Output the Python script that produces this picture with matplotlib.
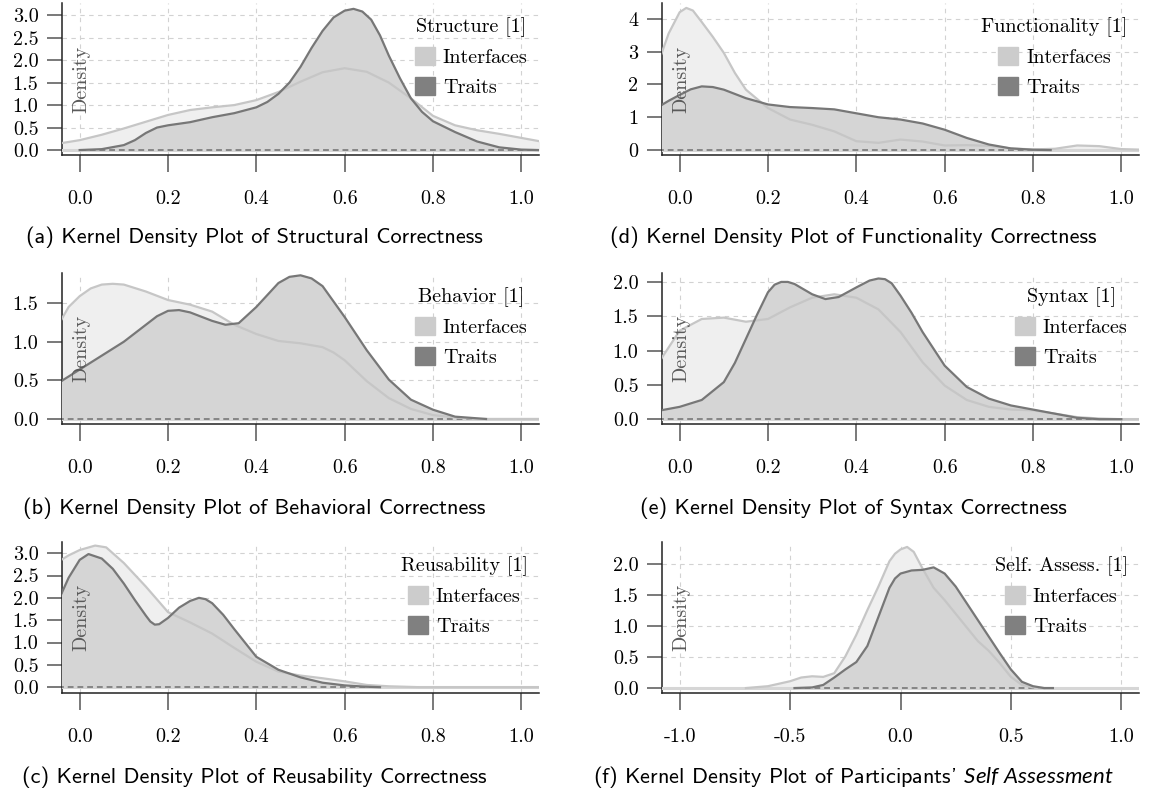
import matplotlib
matplotlib.use("Agg")
import matplotlib.pyplot as plt
from matplotlib.patches import Patch

plt.rcParams['font.family'] = ['cmr10', 'DejaVu Serif']
plt.rcParams['mathtext.fontset'] = 'custom'
plt.rcParams['mathtext.it'] = 'Lato:italic'
plt.rcParams['axes.unicode_minus'] = False

# (a) Structure
struct_if_x = [-0.05, 0.0, 0.05, 0.1, 0.15, 0.2, 0.25, 0.3, 0.35, 0.4, 0.45, 0.5, 0.55, 0.6, 0.65, 0.7, 0.75, 0.8, 0.85, 0.9, 0.95, 1.0, 1.05]
struct_if_y = [0.14, 0.22, 0.34, 0.48, 0.63, 0.78, 0.89, 0.95, 1.0, 1.11, 1.29, 1.52, 1.73, 1.82, 1.74, 1.5, 1.15, 0.76, 0.55, 0.44, 0.36, 0.27, 0.18]
struct_tr_x = [0.0, 0.05, 0.1, 0.125, 0.15, 0.175, 0.2, 0.25, 0.3, 0.35, 0.4, 0.425, 0.45, 0.475, 0.5, 0.525, 0.55, 0.575, 0.6, 0.62, 0.64, 0.66, 0.68, 0.7, 0.725, 0.75, 0.775, 0.8, 0.85, 0.9, 0.95, 1.0, 1.04]
struct_tr_y = [0.0, 0.02, 0.11, 0.22, 0.38, 0.5, 0.55, 0.62, 0.73, 0.82, 0.95, 1.07, 1.25, 1.5, 1.85, 2.27, 2.65, 2.95, 3.1, 3.14, 3.08, 2.9, 2.55, 2.1, 1.6, 1.15, 0.85, 0.64, 0.4, 0.19, 0.06, 0.01, 0.0]

# (b) Behavior
behav_if_x = [-0.05, -0.025, 0.0, 0.025, 0.05, 0.075, 0.1, 0.15, 0.2, 0.25, 0.3, 0.35, 0.4, 0.45, 0.5, 0.55, 0.575, 0.6, 0.65, 0.7, 0.75, 0.8, 0.85, 0.9, 0.95, 1.0, 1.05]
behav_if_y = [1.2, 1.45, 1.59, 1.69, 1.74, 1.75, 1.74, 1.65, 1.54, 1.48, 1.39, 1.22, 1.1, 1.01, 0.98, 0.93, 0.86, 0.76, 0.49, 0.27, 0.13, 0.05, 0.02, 0.0, 0.0, 0.0, 0.0]
behav_tr_x = [-0.05, 0.0, 0.05, 0.1, 0.15, 0.175, 0.2, 0.225, 0.25, 0.3, 0.33, 0.36, 0.4, 0.45, 0.475, 0.5, 0.525, 0.55, 0.6, 0.65, 0.7, 0.75, 0.8, 0.85, 0.92]
behav_tr_y = [0.46, 0.64, 0.82, 1.0, 1.22, 1.33, 1.4, 1.41, 1.38, 1.27, 1.22, 1.24, 1.45, 1.76, 1.84, 1.86, 1.82, 1.72, 1.32, 0.89, 0.51, 0.25, 0.12, 0.03, 0.0]

# (c) Reusability
reuse_if_x = [-0.05, -0.025, 0.0, 0.035, 0.06, 0.1, 0.15, 0.2, 0.25, 0.3, 0.35, 0.4, 0.45, 0.5, 0.55, 0.6, 0.65, 0.7, 0.77, 0.8, 1.05]
reuse_if_y = [2.8, 2.95, 3.07, 3.17, 3.13, 2.78, 2.25, 1.68, 1.45, 1.2, 0.88, 0.57, 0.35, 0.26, 0.2, 0.13, 0.05, 0.02, 0.0, 0.0, 0.0]
reuse_tr_x = [-0.05, -0.025, 0.0, 0.02, 0.05, 0.075, 0.1, 0.125, 0.15, 0.16, 0.17, 0.18, 0.2, 0.225, 0.25, 0.27, 0.285, 0.3, 0.325, 0.35, 0.4, 0.45, 0.5, 0.55, 0.6, 0.65, 0.68]
reuse_tr_y = [1.9, 2.45, 2.85, 2.98, 2.88, 2.65, 2.32, 1.95, 1.6, 1.47, 1.4, 1.41, 1.55, 1.78, 1.93, 2.0, 1.97, 1.88, 1.62, 1.3, 0.68, 0.39, 0.22, 0.1, 0.04, 0.01, 0.0]

# (d) Functionality
func_if_x = [-0.05, -0.025, 0.0, 0.015, 0.03, 0.05, 0.075, 0.1, 0.125, 0.15, 0.2, 0.25, 0.3, 0.35, 0.4, 0.45, 0.5, 0.55, 0.6, 0.65, 0.7, 0.75, 0.8, 0.85, 0.9, 0.95, 1.0, 1.05]
func_if_y = [2.6, 3.55, 4.2, 4.33, 4.25, 3.9, 3.45, 2.96, 2.35, 1.84, 1.28, 0.93, 0.77, 0.57, 0.27, 0.22, 0.32, 0.26, 0.14, 0.15, 0.13, 0.05, 0.02, 0.04, 0.14, 0.12, 0.03, 0.01]
func_tr_x = [-0.05, -0.025, 0.0, 0.025, 0.05, 0.075, 0.1, 0.15, 0.2, 0.25, 0.3, 0.35, 0.4, 0.45, 0.5, 0.55, 0.6, 0.65, 0.7, 0.75, 0.8, 0.84]
func_tr_y = [1.3, 1.5, 1.68, 1.85, 1.94, 1.92, 1.84, 1.58, 1.39, 1.31, 1.28, 1.24, 1.12, 1.0, 0.93, 0.81, 0.62, 0.37, 0.17, 0.05, 0.01, 0.0]

# (e) Syntax
syn_if_x = [-0.05, 0.0, 0.05, 0.1, 0.15, 0.2, 0.25, 0.3, 0.35, 0.4, 0.45, 0.5, 0.55, 0.6, 0.65, 0.7, 0.75, 0.8, 0.85, 0.9, 0.95, 1.0, 1.05]
syn_if_y = [0.8, 1.29, 1.46, 1.48, 1.42, 1.46, 1.63, 1.77, 1.82, 1.77, 1.6, 1.27, 0.83, 0.49, 0.28, 0.18, 0.14, 0.13, 0.08, 0.03, 0.01, 0.0, 0.0]
syn_tr_x = [-0.05, 0.0, 0.05, 0.1, 0.125, 0.15, 0.175, 0.2, 0.215, 0.23, 0.245, 0.26, 0.3, 0.33, 0.36, 0.4, 0.43, 0.45, 0.465, 0.48, 0.5, 0.525, 0.55, 0.6, 0.65, 0.7, 0.75, 0.8, 0.85, 0.9, 0.95, 1.0]
syn_tr_y = [0.12, 0.18, 0.28, 0.54, 0.82, 1.17, 1.52, 1.85, 1.96, 2.0, 2.0, 1.97, 1.82, 1.75, 1.78, 1.92, 2.02, 2.05, 2.04, 1.98, 1.8, 1.55, 1.27, 0.78, 0.47, 0.3, 0.2, 0.14, 0.08, 0.02, 0.0, 0.0]

# (f) Self assessment
self_if_x = [-0.7, -0.6, -0.5, -0.45, -0.4, -0.35, -0.3, -0.25, -0.2, -0.15, -0.1, -0.05, -0.025, 0.0, 0.03, 0.06, 0.1, 0.15, 0.2, 0.25, 0.3, 0.35, 0.4, 0.45, 0.5, 0.55, 0.6, 0.65]
self_if_y = [0.0, 0.03, 0.11, 0.17, 0.19, 0.18, 0.24, 0.51, 0.86, 1.26, 1.64, 2.05, 2.17, 2.24, 2.28, 2.2, 1.93, 1.62, 1.42, 1.2, 0.98, 0.76, 0.6, 0.4, 0.18, 0.05, 0.01, 0.0]
self_tr_x = [-0.48, -0.4, -0.35, -0.3, -0.25, -0.2, -0.15, -0.1, -0.05, -0.025, 0.0, 0.05, 0.1, 0.15, 0.2, 0.25, 0.3, 0.35, 0.4, 0.45, 0.5, 0.55, 0.6, 0.65, 0.69]
self_tr_y = [0.0, 0.01, 0.05, 0.17, 0.3, 0.42, 0.68, 1.15, 1.62, 1.77, 1.85, 1.9, 1.91, 1.95, 1.85, 1.64, 1.37, 1.1, 0.83, 0.56, 0.3, 0.1, 0.03, 0.0, 0.0]

x_ticks01 = [0.0, 0.2, 0.4, 0.6, 0.8, 1.0]
x_labels01 = ["0.0", "0.2", "0.4", "0.6", "0.8", "1.0"]
x_ticks_self = [-1.0, -0.5, 0.0, 0.5, 1.0]
x_labels_self = ["-1.0", "-0.5", "0.0", "0.5", "1.0"]

y_ticks3 = [0.0, 0.5, 1.0, 1.5, 2.0, 2.5, 3.0]
y_labels3 = ["0.0", "0.5", "1.0", "1.5", "2.0", "2.5", "3.0"]
y_ticks4 = [0, 1, 2, 3, 4]
y_labels4 = ["0", "1", "2", "3", "4"]
y_ticks15 = [0.0, 0.5, 1.0, 1.5]
y_labels15 = ["0.0", "0.5", "1.0", "1.5"]
y_ticks2 = [0.0, 0.5, 1.0, 1.5, 2.0]
y_labels2 = ["0.0", "0.5", "1.0", "1.5", "2.0"]

IF_FILL, IF_LINE, IF_PATCH = '#efefef', '#c6c6c6', '#cccccc'
TR_FILL, TR_LINE, TR_PATCH = '#d5d5d5', '#777777', '#808080'
FS = 14.5


def draw_panel(ax, xi, yi, xt, yt, title, xt_pos, xt_lab, xlim, yt_pos, yt_lab, ylim):
    ax.fill_between(xi, yi, 0, color=IF_FILL, lw=0, zorder=2)
    ax.fill_between(xt, yt, 0, color=TR_FILL, lw=0, zorder=3)
    ax.axhline(0, color='#d6d6d6', lw=2.2, zorder=4)
    # dashed baseline under the traits curve
    ax.plot([xt[0], xt[-1]], [0, 0], color='#858585', lw=1.4, ls=(0, (3, 2)), zorder=5)
    ax.plot(xi, yi, color=IF_LINE, lw=1.6, zorder=6)
    ax.plot(xt, yt, color=TR_LINE, lw=1.6, zorder=7)

    ax.set_xlim(*xlim)
    ax.set_ylim(*ylim)
    ax.set_xticks(xt_pos)
    ax.set_xticklabels(xt_lab)
    ax.set_yticks(yt_pos)
    ax.set_yticklabels(yt_lab)
    ax.grid(True, color='#d2d2d2', lw=0.8, ls=(0, (4, 4)))
    ax.set_axisbelow(True)
    for s in ['top', 'right']:
        ax.spines[s].set_visible(False)
    for s in ['left', 'bottom']:
        ax.spines[s].set_color('#222222')
        ax.spines[s].set_linewidth(1.1)
    ax.tick_params(axis='x', length=12, width=1.1, color='#555555', pad=13, labelsize=FS)
    ax.tick_params(axis='y', length=11, width=1.1, color='#555555', pad=6, labelsize=FS)

    ax.text(0.04, 0.5, "Density", transform=ax.transAxes, rotation=90,
            ha='center', va='center', fontsize=FS, color='#5a5a5a', zorder=8)

    handles = [Patch(color=IF_PATCH, label="Interfaces"), Patch(color=TR_PATCH, label="Traits")]
    ax.legend(handles=handles, title=title, loc='upper right', bbox_to_anchor=(1.01, 1.01),
              frameon=False, fontsize=FS, title_fontsize=FS, handlelength=1.0,
              handleheight=1.0, handletextpad=0.4, labelspacing=0.5, borderpad=0.3)


fig = plt.figure(figsize=(11.68, 7.93), dpi=100)

left_x, right_x, w = 62 / 1168, 662 / 1168, 477 / 1168
rows = [(3, 155), (273, 424), (542, 693)]


def make_ax(col_x, row):
    top, bot = rows[row]
    return fig.add_axes([col_x, 1 - bot / 793, w, (bot - top) / 793])


ax_a = make_ax(left_x, 0)
draw_panel(ax_a, struct_if_x, struct_if_y, struct_tr_x, struct_tr_y, "Structure [1]",
           x_ticks01, x_labels01, (-0.04, 1.04), y_ticks3, y_labels3, (-0.11, 3.27))
ax_b = make_ax(left_x, 1)
draw_panel(ax_b, behav_if_x, behav_if_y, behav_tr_x, behav_tr_y, "Behavior [1]",
           x_ticks01, x_labels01, (-0.04, 1.04), y_ticks15, y_labels15, (-0.065, 1.89))
ax_c = make_ax(left_x, 2)
draw_panel(ax_c, reuse_if_x, reuse_if_y, reuse_tr_x, reuse_tr_y, "Reusability [1]",
           x_ticks01, x_labels01, (-0.04, 1.04), y_ticks3, y_labels3, (-0.13, 3.25))
ax_d = make_ax(right_x, 0)
draw_panel(ax_d, func_if_x, func_if_y, func_tr_x, func_tr_y, "Functionality [1]",
           x_ticks01, x_labels01, (-0.04, 1.04), y_ticks4, y_labels4, (-0.15, 4.48))
ax_e = make_ax(right_x, 1)
draw_panel(ax_e, syn_if_x, syn_if_y, syn_tr_x, syn_tr_y, "Syntax [1]",
           x_ticks01, x_labels01, (-0.04, 1.04), y_ticks2, y_labels2, (-0.07, 2.13))
ax_f = make_ax(right_x, 2)
draw_panel(ax_f, self_if_x, self_if_y, self_tr_x, self_tr_y, "Self. Assess. [1]",
           x_ticks_self, x_labels_self, (-1.08, 1.08), y_ticks2, y_labels2, (-0.08, 2.36))

cap_font = ['cmss10', 'DejaVu Sans']
captions = [
    (254, 237, "(a) Kernel Density Plot of Structural Correctness"),
    (254, 508, "(b) Kernel Density Plot of Behavioral Correctness"),
    (254, 777, "(c) Kernel Density Plot of Reusability Correctness"),
    (853, 237, "(d) Kernel Density Plot of Functionality Correctness"),
    (853, 508, "(e) Kernel Density Plot of Syntax Correctness"),
    (853, 777, r"(f) Kernel Density Plot of Participants' $\mathit{Self\ Assessment}$"),
]
for cx, cy, txt in captions:
    fig.text(cx / 1168, 1 - cy / 793, txt, ha='center', va='center',
             fontsize=16, family=cap_font)

fig.savefig("out.png", dpi=100)
